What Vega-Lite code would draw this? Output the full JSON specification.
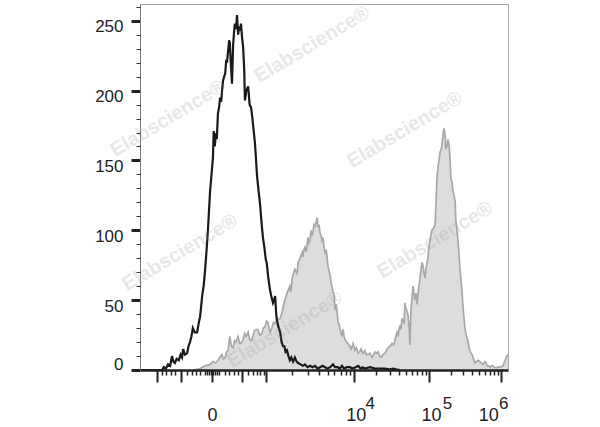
{
  "$schema": "https://vega.github.io/schema/vega-lite/v6.json",
  "width": 368,
  "height": 366,
  "autosize": {"type": "none"},
  "padding": {"left": 140, "top": 4, "right": 92, "bottom": 57},
  "background": "white",
  "config": {
    "view": {"stroke": "#a6a6a6", "strokeWidth": 1},
    "font": "Liberation Sans",
    "axis": {"labelFont": "Liberation Sans", "grid": false, "title": null}
  },
  "datasets": {
    "stained": [
      {"channel": 150, "count": 0}, {"channel": 167, "count": 1}, {"channel": 181, "count": 3}, {"channel": 195, "count": 4},
      {"channel": 203, "count": 6}, {"channel": 210, "count": 5}, {"channel": 217, "count": 7}, {"channel": 222, "count": 9},
      {"channel": 228, "count": 11}, {"channel": 232, "count": 8}, {"channel": 237, "count": 9}, {"channel": 241, "count": 13},
      {"channel": 245, "count": 14}, {"channel": 250, "count": 24}, {"channel": 254, "count": 17}, {"channel": 259, "count": 16},
      {"channel": 263, "count": 21}, {"channel": 267, "count": 20}, {"channel": 273, "count": 24}, {"channel": 277, "count": 19},
      {"channel": 281, "count": 19}, {"channel": 287, "count": 22}, {"channel": 291, "count": 26}, {"channel": 295, "count": 24},
      {"channel": 301, "count": 27}, {"channel": 305, "count": 22}, {"channel": 309, "count": 21}, {"channel": 314, "count": 24},
      {"channel": 318, "count": 28}, {"channel": 323, "count": 29}, {"channel": 328, "count": 29}, {"channel": 333, "count": 25},
      {"channel": 339, "count": 26}, {"channel": 343, "count": 30}, {"channel": 348, "count": 31}, {"channel": 352, "count": 35},
      {"channel": 356, "count": 34}, {"channel": 362, "count": 27}, {"channel": 367, "count": 30}, {"channel": 371, "count": 34},
      {"channel": 376, "count": 33}, {"channel": 380, "count": 36}, {"channel": 384, "count": 36}, {"channel": 390, "count": 37},
      {"channel": 395, "count": 41}, {"channel": 399, "count": 46}, {"channel": 403, "count": 50}, {"channel": 408, "count": 54},
      {"channel": 412, "count": 57}, {"channel": 417, "count": 60}, {"channel": 420, "count": 56}, {"channel": 423, "count": 65},
      {"channel": 427, "count": 69}, {"channel": 431, "count": 72}, {"channel": 437, "count": 69}, {"channel": 440, "count": 77},
      {"channel": 445, "count": 80}, {"channel": 451, "count": 84}, {"channel": 453, "count": 81}, {"channel": 456, "count": 86},
      {"channel": 459, "count": 88}, {"channel": 462, "count": 85}, {"channel": 465, "count": 89}, {"channel": 467, "count": 95},
      {"channel": 470, "count": 91}, {"channel": 473, "count": 93}, {"channel": 476, "count": 100}, {"channel": 478, "count": 96},
      {"channel": 481, "count": 98}, {"channel": 484, "count": 104}, {"channel": 487, "count": 103}, {"channel": 490, "count": 106},
      {"channel": 493, "count": 109}, {"channel": 495, "count": 102}, {"channel": 498, "count": 104}, {"channel": 501, "count": 98},
      {"channel": 504, "count": 96}, {"channel": 506, "count": 93}, {"channel": 509, "count": 95}, {"channel": 512, "count": 88},
      {"channel": 515, "count": 84}, {"channel": 518, "count": 86}, {"channel": 520, "count": 82}, {"channel": 523, "count": 74},
      {"channel": 526, "count": 71}, {"channel": 529, "count": 68}, {"channel": 532, "count": 62}, {"channel": 534, "count": 60},
      {"channel": 537, "count": 56}, {"channel": 540, "count": 54}, {"channel": 543, "count": 43}, {"channel": 546, "count": 47},
      {"channel": 548, "count": 43}, {"channel": 551, "count": 34}, {"channel": 554, "count": 33}, {"channel": 557, "count": 29},
      {"channel": 560, "count": 26}, {"channel": 562, "count": 24}, {"channel": 565, "count": 29}, {"channel": 568, "count": 24},
      {"channel": 570, "count": 22}, {"channel": 575, "count": 20}, {"channel": 579, "count": 19}, {"channel": 584, "count": 17},
      {"channel": 588, "count": 15}, {"channel": 593, "count": 19}, {"channel": 598, "count": 14}, {"channel": 602, "count": 16},
      {"channel": 607, "count": 12}, {"channel": 611, "count": 13}, {"channel": 615, "count": 15}, {"channel": 620, "count": 12},
      {"channel": 626, "count": 14}, {"channel": 630, "count": 11}, {"channel": 634, "count": 11}, {"channel": 640, "count": 12},
      {"channel": 646, "count": 9}, {"channel": 650, "count": 11}, {"channel": 654, "count": 13}, {"channel": 658, "count": 12},
      {"channel": 662, "count": 13}, {"channel": 667, "count": 10}, {"channel": 671, "count": 9}, {"channel": 676, "count": 11},
      {"channel": 682, "count": 12}, {"channel": 686, "count": 14}, {"channel": 690, "count": 16}, {"channel": 696, "count": 17},
      {"channel": 701, "count": 19}, {"channel": 706, "count": 18}, {"channel": 710, "count": 22}, {"channel": 715, "count": 27},
      {"channel": 718, "count": 25}, {"channel": 723, "count": 32}, {"channel": 726, "count": 29}, {"channel": 729, "count": 37},
      {"channel": 732, "count": 35}, {"channel": 735, "count": 34}, {"channel": 737, "count": 48}, {"channel": 740, "count": 44},
      {"channel": 743, "count": 42}, {"channel": 746, "count": 39}, {"channel": 749, "count": 30}, {"channel": 751, "count": 18},
      {"channel": 754, "count": 43}, {"channel": 757, "count": 52}, {"channel": 760, "count": 60}, {"channel": 763, "count": 53},
      {"channel": 765, "count": 50}, {"channel": 768, "count": 55}, {"channel": 771, "count": 47}, {"channel": 775, "count": 58},
      {"channel": 779, "count": 65}, {"channel": 782, "count": 72}, {"channel": 785, "count": 77}, {"channel": 788, "count": 74},
      {"channel": 790, "count": 70}, {"channel": 793, "count": 66}, {"channel": 796, "count": 73}, {"channel": 799, "count": 77},
      {"channel": 801, "count": 80}, {"channel": 804, "count": 88}, {"channel": 807, "count": 93}, {"channel": 810, "count": 97},
      {"channel": 812, "count": 100}, {"channel": 815, "count": 101}, {"channel": 818, "count": 102}, {"channel": 821, "count": 104},
      {"channel": 824, "count": 122}, {"channel": 826, "count": 136}, {"channel": 829, "count": 145}, {"channel": 832, "count": 150},
      {"channel": 835, "count": 156}, {"channel": 838, "count": 158}, {"channel": 840, "count": 161}, {"channel": 843, "count": 168},
      {"channel": 846, "count": 173}, {"channel": 849, "count": 168}, {"channel": 851, "count": 158}, {"channel": 854, "count": 160},
      {"channel": 857, "count": 165}, {"channel": 860, "count": 161}, {"channel": 863, "count": 150}, {"channel": 865, "count": 137},
      {"channel": 868, "count": 135}, {"channel": 871, "count": 128}, {"channel": 874, "count": 125}, {"channel": 877, "count": 120},
      {"channel": 879, "count": 107}, {"channel": 882, "count": 100}, {"channel": 885, "count": 92}, {"channel": 888, "count": 82},
      {"channel": 890, "count": 73}, {"channel": 893, "count": 65}, {"channel": 896, "count": 56}, {"channel": 898, "count": 48},
      {"channel": 901, "count": 39}, {"channel": 904, "count": 30}, {"channel": 907, "count": 26}, {"channel": 910, "count": 23},
      {"channel": 913, "count": 20}, {"channel": 916, "count": 16}, {"channel": 918, "count": 14}, {"channel": 921, "count": 12},
      {"channel": 924, "count": 11}, {"channel": 928, "count": 8}, {"channel": 932, "count": 5}, {"channel": 936, "count": 6},
      {"channel": 941, "count": 7}, {"channel": 946, "count": 6}, {"channel": 950, "count": 5}, {"channel": 954, "count": 4},
      {"channel": 957, "count": 5}, {"channel": 960, "count": 6}, {"channel": 963, "count": 5}, {"channel": 966, "count": 3},
      {"channel": 970, "count": 3}, {"channel": 974, "count": 2}, {"channel": 978, "count": 3}, {"channel": 982, "count": 3},
      {"channel": 986, "count": 2}, {"channel": 991, "count": 1.5}, {"channel": 996, "count": 2}, {"channel": 1002, "count": 2},
      {"channel": 1006, "count": 2.5}, {"channel": 1010, "count": 3}, {"channel": 1013, "count": 5}, {"channel": 1016, "count": 7},
      {"channel": 1019, "count": 9}, {"channel": 1021, "count": 10}, {"channel": 1024, "count": 11}
    ],
    "isotype": [
      {"channel": 0, "count": 0}, {"channel": 50, "count": 0}, {"channel": 62, "count": 0}, {"channel": 66, "count": 2},
      {"channel": 72, "count": 1}, {"channel": 78, "count": 4}, {"channel": 84, "count": 3}, {"channel": 89, "count": 10},
      {"channel": 93, "count": 6}, {"channel": 97, "count": 5}, {"channel": 102, "count": 8}, {"channel": 108, "count": 7},
      {"channel": 113, "count": 11}, {"channel": 117, "count": 9}, {"channel": 120, "count": 15}, {"channel": 125, "count": 11},
      {"channel": 131, "count": 12}, {"channel": 135, "count": 17}, {"channel": 139, "count": 20}, {"channel": 143, "count": 24},
      {"channel": 147, "count": 30}, {"channel": 152, "count": 27}, {"channel": 159, "count": 27}, {"channel": 163, "count": 33},
      {"channel": 167, "count": 38}, {"channel": 170, "count": 45}, {"channel": 173, "count": 53}, {"channel": 177, "count": 60},
      {"channel": 181, "count": 71}, {"channel": 185, "count": 85}, {"channel": 189, "count": 100}, {"channel": 192, "count": 114},
      {"channel": 195, "count": 128}, {"channel": 198, "count": 137}, {"channel": 200, "count": 143}, {"channel": 203, "count": 152},
      {"channel": 205, "count": 171}, {"channel": 208, "count": 160}, {"channel": 211, "count": 168}, {"channel": 214, "count": 167},
      {"channel": 217, "count": 184}, {"channel": 220, "count": 188}, {"channel": 223, "count": 195}, {"channel": 226, "count": 192},
      {"channel": 228, "count": 199}, {"channel": 231, "count": 207}, {"channel": 234, "count": 210}, {"channel": 237, "count": 212},
      {"channel": 240, "count": 222}, {"channel": 242, "count": 220}, {"channel": 245, "count": 228}, {"channel": 248, "count": 236},
      {"channel": 250, "count": 234}, {"channel": 253, "count": 218}, {"channel": 256, "count": 205}, {"channel": 259, "count": 232},
      {"channel": 262, "count": 243}, {"channel": 264, "count": 248}, {"channel": 267, "count": 244}, {"channel": 270, "count": 254},
      {"channel": 273, "count": 240}, {"channel": 276, "count": 246}, {"channel": 279, "count": 243}, {"channel": 281, "count": 248},
      {"channel": 284, "count": 238}, {"channel": 287, "count": 231}, {"channel": 290, "count": 215}, {"channel": 292, "count": 193},
      {"channel": 296, "count": 200}, {"channel": 301, "count": 203}, {"channel": 305, "count": 190}, {"channel": 309, "count": 188},
      {"channel": 312, "count": 182}, {"channel": 316, "count": 172}, {"channel": 320, "count": 162}, {"channel": 323, "count": 150},
      {"channel": 326, "count": 138}, {"channel": 330, "count": 128}, {"channel": 334, "count": 119}, {"channel": 338, "count": 106},
      {"channel": 342, "count": 95}, {"channel": 346, "count": 88}, {"channel": 350, "count": 79}, {"channel": 353, "count": 76},
      {"channel": 357, "count": 66}, {"channel": 362, "count": 57}, {"channel": 366, "count": 52}, {"channel": 370, "count": 48},
      {"channel": 373, "count": 50}, {"channel": 376, "count": 53}, {"channel": 379, "count": 40}, {"channel": 381, "count": 36},
      {"channel": 385, "count": 31}, {"channel": 390, "count": 27}, {"channel": 394, "count": 20}, {"channel": 398, "count": 17},
      {"channel": 402, "count": 17}, {"channel": 405, "count": 13}, {"channel": 409, "count": 14}, {"channel": 413, "count": 10},
      {"channel": 417, "count": 7}, {"channel": 421, "count": 9}, {"channel": 426, "count": 6}, {"channel": 431, "count": 9},
      {"channel": 436, "count": 6}, {"channel": 440, "count": 5}, {"channel": 447, "count": 4}, {"channel": 453, "count": 3},
      {"channel": 459, "count": 4}, {"channel": 466, "count": 2}, {"channel": 473, "count": 3}, {"channel": 480, "count": 2},
      {"channel": 487, "count": 3}, {"channel": 494, "count": 1}, {"channel": 501, "count": 2}, {"channel": 508, "count": 3},
      {"channel": 515, "count": 2}, {"channel": 522, "count": 1}, {"channel": 529, "count": 2}, {"channel": 537, "count": 4},
      {"channel": 543, "count": 2}, {"channel": 550, "count": 2}, {"channel": 556, "count": 1}, {"channel": 562, "count": 3},
      {"channel": 568, "count": 1}, {"channel": 575, "count": 2}, {"channel": 584, "count": 2}, {"channel": 592, "count": 1},
      {"channel": 600, "count": 2}, {"channel": 607, "count": 3}, {"channel": 614, "count": 1}, {"channel": 620, "count": 2},
      {"channel": 626, "count": 1}, {"channel": 640, "count": 2}, {"channel": 654, "count": 1}, {"channel": 668, "count": 1},
      {"channel": 682, "count": 1}, {"channel": 695, "count": 0.5}, {"channel": 705, "count": 1}, {"channel": 712, "count": 0.5},
      {"channel": 723, "count": 0}
    ],
    "watermark": [
      {"channel": 479, "count": 233, "label": "Elabscience®"},
      {"channel": 78, "count": 180, "label": "Elabscience®"},
      {"channel": 737, "count": 172, "label": "Elabscience®"},
      {"channel": 111, "count": 84, "label": "Elabscience®"},
      {"channel": 821, "count": 93, "label": "Elabscience®"},
      {"channel": 403, "count": 29, "label": "Elabscience®"}
    ]
  },
  "layer": [
    {
      "data": {"name": "stained"},
      "mark": {"type": "area", "color": "#cfcfcf", "line": {"color": "#a8a8a8", "strokeWidth": 1.7}},
      "encoding": {
        "x": {
          "field": "channel", "type": "quantitative",
          "scale": {"domain": [0, 1024], "nice": false, "zero": false},
          "axis": {
            "orient": "bottom",
            "values": [47, 114, 200, 284, 351, 595, 804, 1005],
            "labelExpr": "datum.value == 200 ? '0' : (datum.value >= 595 ? '10' : '')",
            "tickSize": 12, "tickWidth": 2, "tickColor": "#222",
            "domainColor": "#222", "domainWidth": 2.5,
            "labelFontSize": 18, "labelColor": "#222", "labelBaseline": "alphabetic",
            "labelPadding": 38,
            "labelOffset": {"condition": [{"test": "datum.value == 1005", "value": -13}, {"test": "datum.value == 200", "value": 0}], "value": 2},
            "labelFlush": false, "labelOverlap": false, "zindex": 1
          }
        },
        "y": {
          "field": "count", "type": "quantitative",
          "scale": {"domain": [0, 262], "nice": false},
          "axis": {
            "orient": "left",
            "values": [0, 50, 100, 150, 200, 250],
            "tickSize": 9, "tickWidth": 3, "tickColor": "#222",
            "domainColor": "#777", "domainWidth": 1,
            "labelFontSize": 17, "labelColor": "#222", "labelPadding": 8, "labelBaseline": "middle",
            "labelOffset": {"condition": {"test": "datum.value == 0", "value": -6}, "value": 6},
            "labelFlush": false, "labelOverlap": false, "zindex": 1
          }
        }
      }
    },
    {
      "data": {"name": "isotype"},
      "mark": {"type": "line", "color": "#1a1a1a", "strokeWidth": 2.2},
      "encoding": {
        "x": {
          "field": "channel", "type": "quantitative",
          "axis": {
            "orient": "bottom",
            "values": [61, 72, 86, 97, 131, 145, 156, 167, 181, 186, 192, 197, 203, 209, 214, 220, 237, 248, 262, 273, 301, 314, 326, 334, 345, 424, 467, 498, 522, 541, 558, 572, 585, 658, 695, 721, 741, 758, 772, 784, 795, 865, 899, 924, 943, 960, 974, 985, 996],
            "labels": false, "domain": false,
            "tickSize": 5, "tickWidth": 1.5, "tickColor": "#222", "zindex": 1
          }
        },
        "y": {
          "field": "count", "type": "quantitative",
          "axis": {
            "orient": "left",
            "values": [10, 20, 30, 40, 60, 70, 80, 90, 110, 120, 130, 140, 160, 170, 180, 190, 210, 220, 230, 240, 260],
            "labels": false, "domain": false,
            "tickSize": 4, "tickWidth": 1, "tickColor": "#333", "zindex": 1
          }
        }
      }
    },
    {
      "data": {"name": "watermark"},
      "mark": {"type": "text", "angle": -31, "fontSize": 20, "fontWeight": "bold", "font": "Liberation Sans", "color": "#999999", "opacity": 0.22, "align": "center", "baseline": "middle"},
      "encoding": {
        "x": {
          "field": "channel", "type": "quantitative",
          "axis": {
            "orient": "bottom",
            "values": [595, 804, 1005],
            "labelExpr": "datum.value == 595 ? '4' : (datum.value == 804 ? '5' : '6')",
            "ticks": false, "tickSize": 0, "domain": false,
            "labelFontSize": 17, "labelColor": "#222", "labelBaseline": "alphabetic",
            "labelPadding": 38,
            "labelOffset": {"condition": [{"test": "datum.value == 595", "value": 16}, {"test": "datum.value == 804", "value": 18}], "value": 2},
            "labelFlush": false, "labelOverlap": false, "zindex": 1
          }
        },
        "y": {"field": "count", "type": "quantitative", "axis": null},
        "text": {"field": "label"}
      }
    }
  ],
  "resolve": {"axis": {"x": "independent", "y": "independent"}}
}
